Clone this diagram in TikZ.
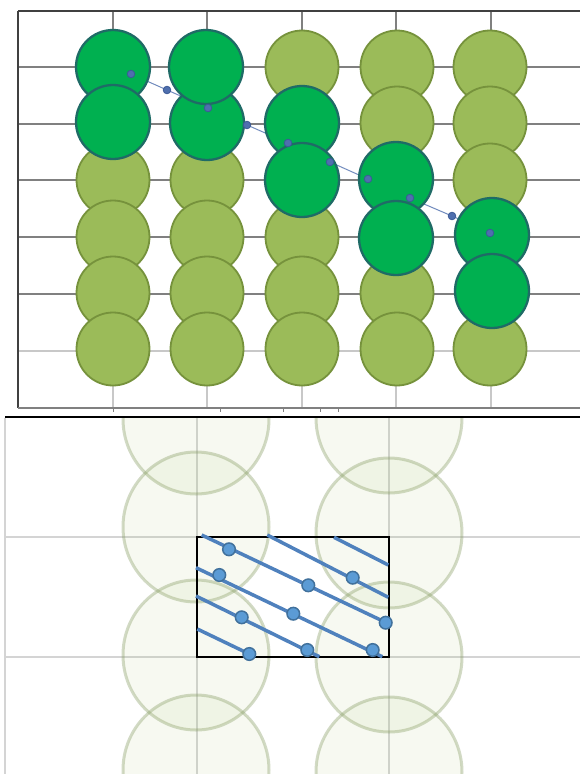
\documentclass[tikz,border=0pt]{standalone}
\definecolor{lgreen}{HTML}{9BBB59}
\definecolor{lgreenb}{HTML}{76923C}
\definecolor{dgreen}{HTML}{00B050}
\definecolor{dgreenb}{HTML}{1F6B66}
\definecolor{dotblue}{HTML}{4F6FAE}
\definecolor{dotblueb}{HTML}{3B5A96}
\definecolor{lineblue}{HTML}{4F81BD}
\definecolor{ballblue}{HTML}{5B9BD5}
\definecolor{ballblueb}{HTML}{41719C}
\definecolor{gridA}{HTML}{808080}
\definecolor{gridB}{HTML}{C8C8C8}
\definecolor{gridC}{HTML}{D4D4D4}
\definecolor{faintedge}{HTML}{8A9F68}
\tikzset{
  gridline/.style={draw=gridA, line width=1.2pt},
  gridlight/.style={draw=gridB, line width=1.2pt},
  frameline/.style={draw=black!75, line width=1.2pt},
  lightball/.style={fill=lgreen, draw=lgreenb, line width=1.8pt},
  darkball/.style={fill=dgreen, draw=dgreenb, line width=2.3pt},
  pathdot/.style={fill=dotblue, draw=dotblueb, line width=0.8pt},
  faintball/.style={fill=lgreen, fill opacity=0.08, draw=faintedge, draw opacity=0.38, line width=3pt},
  lowgrid/.style={draw=gridC, line width=1.5pt},
  hatch/.style={draw=lineblue, line width=3.5pt},
  ball/.style={fill=ballblue, draw=ballblueb, line width=1.5pt},
}
\begin{document}
\begin{tikzpicture}[x=1pt,y=-1pt]
\useasboundingbox (0,0) rectangle (580,774);
\fill[white] (0,0) rectangle (580,774);

% ---------- top panel ----------
\foreach \x in {113,207,302,396,491} {
  \draw[gridline] (\x,11) -- (\x,351);
  \draw[gridlight] (\x,351) -- (\x,408);
}
\foreach \y in {67,124,180,237,294} \draw[gridline] (18,\y) -- (580,\y);
\draw[gridlight] (18,351) -- (580,351);
\draw[frameline] (18,11) -- (580,11);
\draw[frameline] (18,11) -- (18,408);
\draw[draw=gridA, line width=1.2pt] (18,408) -- (580,408);
\foreach \x in {113,220,283,320,338} \draw[gridA, line width=0.8pt] (\x,408) -- (\x,412);

% light circles
\foreach \y [count=\r] in {67,123,180,237,293,349} {
  \foreach \x [count=\c] in {113,207,302,397,490} {
    \pgfmathtruncatemacro{\hl}{ (\c==1 && \r<=2) || (\c==2 && \r<=2) || (\c==3 && (\r==2 || \r==3)) || (\c==4 && (\r==3 || \r==4)) || (\c==5 && (\r==4 || \r==5)) ? 1 : 0}
    \ifnum\hl=0
      \draw[lightball] (\x,\y) circle (36.5);
    \fi
  }
}

% path line
\draw[draw=dotblue!80, line width=1pt] (131,74) -- (167,90) -- (208,108) -- (247,125) -- (288,143) -- (330,162) -- (368,179) -- (410,198) -- (452,216) -- (490,233);

% dark circles
\draw[darkball] (113,67) circle (37);
\draw[darkball] (113,122) circle (37);
\draw[darkball] (207,123) circle (37);
\draw[darkball] (206,67) circle (37);
\draw[darkball] (302,123) circle (37);
\draw[darkball] (302,180) circle (37);
\draw[darkball] (396,179) circle (37);
\draw[darkball] (396,238) circle (37);
\draw[darkball] (492,235) circle (37);
\draw[darkball] (492,291) circle (37);

% path dots
\foreach \p in {(131,74),(167,90),(208,108),(247,125),(288,143),(330,162),(368,179),(410,198),(452,216),(490,233)}
  \draw[pathdot] \p circle (3.8);

% ---------- bottom panel ----------
\begin{scope}
\clip (0,418) rectangle (580,774);
\draw[lowgrid] (5,417) -- (5,774);
\draw[lowgrid] (197,417) -- (197,774);
\draw[lowgrid] (389,417) -- (389,774);
\draw[lowgrid] (5,537) -- (580,537);
\draw[lowgrid] (5,657) -- (580,657);
\foreach \y in {419,527,655,770} \draw[faintball] (196,\y) ellipse (73 and 75);
\foreach \y in {418,533,657,772} \draw[faintball] (389,\y) ellipse (73 and 75);
\draw[black, line width=1.5pt] (197,537) rectangle (389,657);
% hatch lines
\draw[hatch] (201.7,535) -- (388,623.5);
\draw[hatch] (267.3,535) -- (388.3,597.3);
\draw[hatch] (334,537.3) -- (388.3,565);
\draw[hatch] (196,567.7) -- (382.3,656.7);
\draw[hatch] (196,596) -- (319.3,656.7);
\draw[hatch] (197.3,629) -- (249.3,654);
% balls
\foreach \p in {(229,549.3),(308.3,585.3),(385.7,622.7),(352.7,577.7),(219.3,575),(293.3,613.7),(372.7,650),(241.7,617.3),(307.3,650),(249.3,654)}
  \draw[ball] \p circle (6.3);
\end{scope}

% separator
\draw[black, line width=2pt] (5,417) -- (580,417);
\end{tikzpicture}
\end{document}
